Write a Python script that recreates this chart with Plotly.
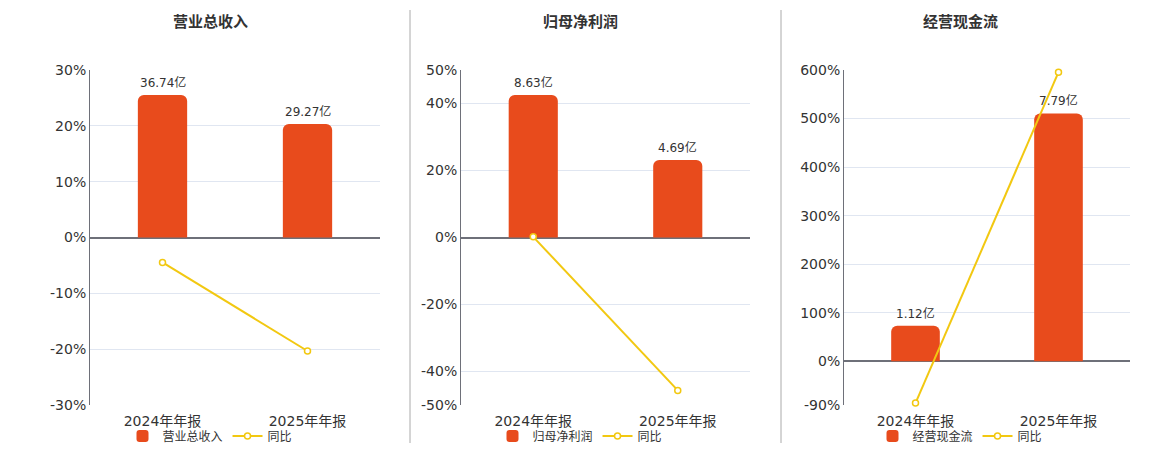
import plotly.graph_objects as go

# ---- data ----
periods = ["2024年年报", "2025年年报"]

titles = ["营业总收入", "归母净利润", "经营现金流"]
bar_values = [
    [36.74, 29.27],   # 营业总收入 (亿)
    [8.63, 4.69],     # 归母净利润 (亿)
    [1.12, 7.79],     # 经营现金流 (亿)
]
yoy_values = [
    [-4.46, -20.33],
    [0.2, -45.65],
    [-86.0, 595.5],
]
pct_ticks = [
    [-30, -20, -10, 0, 10, 20, 30],
    [-50, -40, -20, 0, 20, 40, 50],
    [-90, 0, 100, 200, 300, 400, 500, 600],
]

W, H = 1160, 450
bar_color = "#E84B1C"
line_color = "#F2C811"
axis_color = "#6E7079"
grid_color = "#E0E6F1"
font_family = "DejaVu Sans, Noto Sans CJK SC, sans-serif"

# plot areas in pixels (left, right), shared top/bottom
plot_x = [(90, 380), (461, 750), (844, 1130)]
plot_top, plot_bottom = 70, 405
panel_center = [210, 580, 960]

fig = go.Figure()
layout = dict(
    width=W, height=H,
    margin=dict(l=0, r=0, t=0, b=0, autoexpand=False),
    paper_bgcolor="white", plot_bgcolor="white",
    font=dict(family=font_family, color="#333"),
    showlegend=True,
    annotations=[], shapes=[],
)

ydom = [1 - plot_bottom / H, 1 - plot_top / H]

for i in range(3):
    n = i + 1
    xa = "x" if n == 1 else f"x{n}"
    ya = "y" if n == 1 else f"y{n}"
    ya_pct = f"y{n + 3}"
    leg = "legend" if n == 1 else f"legend{n}"
    xdom = [plot_x[i][0] / W, plot_x[i][1] / W]

    pmin, pmax = pct_ticks[i][0], pct_ticks[i][-1]
    top = max(bar_values[i]) * 1.175
    bmin = top * pmin / pmax

    fig.add_trace(go.Bar(
        x=periods, y=bar_values[i], name=titles[i],
        xaxis=xa, yaxis=ya, legend=leg,
        marker=dict(color=bar_color, cornerradius=6, line=dict(width=0)),
        width=0.34,
        hoverinfo="skip",
    ))
    fig.add_trace(go.Scatter(
        x=periods, y=yoy_values[i], name="同比",
        xaxis=xa, yaxis=ya_pct, legend=leg,
        mode="lines+markers",
        line=dict(color=line_color, width=2),
        marker=dict(symbol="circle", size=6, color="white",
                    line=dict(color=line_color, width=1.5)),
        cliponaxis=False,
        hoverinfo="skip",
    ))

    # value labels above the bars
    for p, v in zip(periods, bar_values[i]):
        layout["annotations"].append(dict(
            x=p, y=v, xref=xa, yref=ya, text=f"{v:.2f}亿",
            showarrow=False, xanchor="center", yanchor="bottom", yshift=3,
            font=dict(size=12, color="#333"),
        ))

    layout["xaxis" if n == 1 else f"xaxis{n}"] = dict(
        domain=xdom, anchor=ya, type="category", range=[-0.5, 1.5],
        showline=False, ticks="", showgrid=False, zeroline=False,
        tickfont=dict(size=14, color="#333"), ticklabelstandoff=6,
    )
    layout["yaxis" if n == 1 else f"yaxis{n}"] = dict(
        domain=ydom, anchor=xa, range=[bmin, top],
        visible=False, showgrid=False, zeroline=False,
    )
    layout[f"yaxis{n + 3}"] = dict(
        domain=ydom, anchor=xa, overlaying=ya, side="left",
        range=[pmin, pmax], tickvals=pct_ticks[i],
        ticktext=[f"{t}%" for t in pct_ticks[i]],
        showgrid=True, gridcolor=grid_color, gridwidth=1,
        zeroline=True, zerolinecolor=axis_color, zerolinewidth=2,
        showline=True, linecolor=axis_color, linewidth=1,
        ticks="", tickfont=dict(size=14, color="#333"),
    )
    # small tick marks on the zero line at category boundaries
    zero_pos = ydom[0] + (0 - pmin) / (pmax - pmin) * (ydom[1] - ydom[0])
    layout[f"xaxis{n + 3}"] = dict(
        domain=xdom, anchor="free", position=zero_pos, overlaying=xa,
        range=[-0.5, 1.5], tickvals=[0.5, 1.5], ticks="outside",
        ticklen=5, tickcolor=axis_color, tickwidth=1,
        showticklabels=False, showline=False, showgrid=False, zeroline=False,
    )
    layout[leg] = dict(
        orientation="h", x=panel_center[i] / W, xanchor="center",
        y=1 - 436 / H, yanchor="middle",
        font=dict(size=12, color="#333"),
        bgcolor="rgba(0,0,0,0)", itemwidth=30, traceorder="normal",
    )
    layout["annotations"].append(dict(
        text=f"<b>{titles[i]}</b>", x=panel_center[i] / W, y=1 - 22 / H,
        xref="paper", yref="paper", xanchor="center", yanchor="middle",
        showarrow=False, font=dict(size=15, color="#333"),
    ))

for sx in [410, 781]:
    layout["shapes"].append(dict(
        type="line", xref="paper", yref="paper",
        x0=sx / W, x1=sx / W, y0=1 - 443 / H, y1=1 - 10 / H,
        line=dict(color="#AAAAAA", width=1),
    ))

fig.update_layout(**layout)
fig.write_html("out.html",
               config={"displayModeBar": False},
               post_script="document.body.style.margin='0';"
                           "document.body.style.overflow='hidden';")
